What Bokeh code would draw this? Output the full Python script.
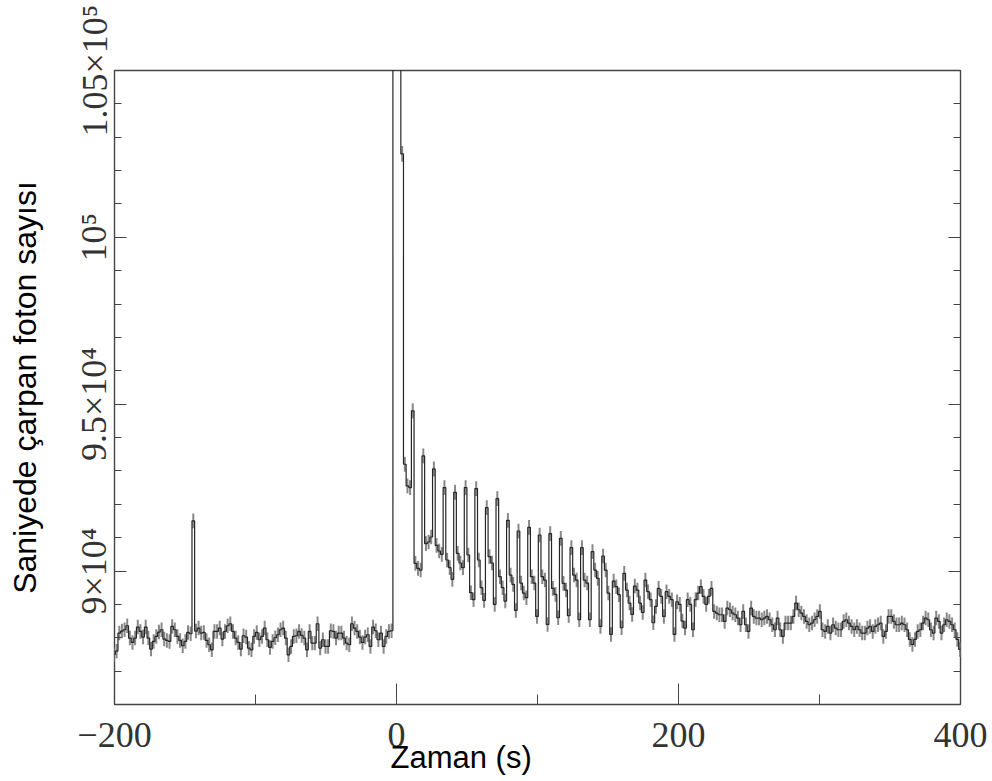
import numpy as np
from bokeh.plotting import figure
from bokeh.models import FixedTicker, LinearAxis, Range1d, ColumnDataSource, Title
from bokeh.embed import file_html
from bokeh.resources import INLINE

# ---- binning of the light curve (seconds) ----
T_START = -201.3
BIN_WIDTH = 1.875

# ---- count rate per bin, in units of 1000 counts/s ----
pre_burst_k = [
    87.5, 87.6, 88.14, 88.2, 88.24, 88.36, 87.99, 87.86, 87.99, 88.32,
    88.19, 88.02, 88.32, 87.99, 87.66, 87.89, 88.04, 88.17, 88.24, 87.96,
    87.92, 87.89, 88.34, 88.24, 88.04, 87.92, 87.76, 87.89, 88.16, 88.12,
    91.5, 88.2, 88.29, 88.14, 88.16, 87.92, 87.79, 87.64, 88.19, 88.19,
    88.29, 87.96, 88.19, 88.36, 88.42, 88.19, 87.99, 87.86, 87.66, 88.06,
    88.02, 87.69, 87.64, 88.04, 88.16, 87.94, 88.04, 88.29, 87.94, 87.71,
    87.89, 88.0, 88.09, 88.24, 88.29, 87.99, 87.49, 87.74, 88.04, 88.06,
    88.19, 88.07, 87.99, 87.64, 88.19, 87.84, 87.84, 88.42, 87.69, 87.94,
    87.74, 87.74, 88.21, 88.19, 87.99, 88.14, 88.14, 87.99, 87.84, 87.79,
    88.42, 88.29, 88.19, 88.02, 87.86, 88.02, 88.09, 87.74, 88.32, 88.21,
    87.94, 88.14, 87.74, 88.04, 88.19, 88.21,
]
burst_k = [150.0, 150.0, 150.0, 102.5, 93.2, 92.55, 92.5]
pulsed_tail_k = [
    94.8, 90.23, 90.08, 90.03,
    93.45, 90.82, 90.87, 91.02,
    93.06, 90.77, 90.6, 90.5,
    92.5, 90.33, 90.1, 89.75,
    92.36, 90.53, 90.24, 90.1,
    92.5, 90.48, 89.35, 89.14,
    92.47, 90.33, 89.5, 89.12,
    91.9, 90.43, 90.24, 89.0,
    92.17, 89.83, 89.5, 89.1,
    91.52, 89.88, 89.6, 88.82,
    91.2, 89.64, 89.34, 89.2,
    91.31, 89.83, 89.64, 88.64,
    91.08, 89.83, 89.73, 88.4,
    91.12, 89.48, 89.3, 88.6,
    90.98, 89.63, 89.43, 88.66,
    90.7, 89.88, 89.73, 88.54,
    90.7, 89.73, 89.64, 88.54,
    90.58, 90.03, 89.78, 88.34,
    90.45, 90.03, 89.34, 88.1,
    89.7, 89.53, 89.29, 88.3,
    89.93, 89.43, 89.04, 88.7,
    89.55, 89.43, 89.04, 88.76,
    89.73, 89.38, 89.14, 88.45,
    88.94, 89.48, 89.24, 88.64,
    89.38, 89.24, 89.14, 88.1,
    89.08,
]
late_tail_k = [
    89.0, 88.5, 88.29, 89.14, 89.0, 88.24, 89.14, 89.34, 89.53, 89.24,
    89.0, 89.24, 89.48, 88.79, 88.74, 88.69, 88.69, 88.49, 88.89, 88.84,
    88.74, 88.69, 88.59, 88.39, 88.79, 88.39, 88.19, 88.89, 88.64, 88.59,
    88.59, 88.54, 88.59, 88.64, 88.54, 88.39, 88.24, 88.59, 88.24, 88.04,
    88.44, 88.44, 88.44, 88.64, 89.04, 88.84, 88.74, 88.64, 88.49, 88.39,
    88.44, 88.54, 88.64, 88.79, 88.24, 88.19, 88.34, 88.14, 88.39, 88.29,
    88.24, 88.24, 88.49, 88.54, 88.44, 88.34, 88.24, 88.34, 88.24, 88.14,
    88.14, 88.29, 88.34, 88.19, 88.34, 88.39, 88.44, 88.04, 88.19, 88.64,
    88.64, 88.49, 88.39, 88.39, 88.44, 88.39, 88.24, 87.95, 87.8, 87.95,
    88.19, 88.24, 88.44, 88.59, 88.54, 88.24, 88.14, 88.59, 88.49, 88.14,
    88.39, 88.54, 88.49, 88.39, 88.24, 87.95, 87.65,
]

# ---- axes ----
x_ticks = [-200, 0, 200, 400]
x_tick_labels = ["\u2212200", "0", "200", "400"]
x_minor_ticks = [-100, 100, 300]
y_ticks = [90000, 95000, 100000, 105000]
y_tick_labels = ["9\u00d710\u2074", "9.5\u00d710\u2074", "10\u2075", "1.05\u00d710\u2075"]
y_minor_ticks = [v for v in range(86000, 105001, 1000) if v not in y_ticks]

x_title = "Zaman (s)"
y_title = "Saniyede \u00e7arpan foton say\u0131s\u0131"

# ---- build histogram ----
rate = np.array(pre_burst_k + burst_k + pulsed_tail_k + late_tail_k) * 1000.0
n = len(rate)
edges = T_START + BIN_WIDTH * np.arange(n + 1)
centers = 0.5 * (edges[:-1] + edges[1:])
err = np.sqrt(rate / BIN_WIDTH)

step_src = ColumnDataSource(dict(x=edges, y=np.append(rate, rate[-1])))
err_src = ColumnDataSource(dict(x=centers, lo=rate - err, hi=rate + err))

p = figure(width=990, height=780,
           x_range=Range1d(-200, 400), y_range=Range1d(86000, 105000),
           output_backend="svg", toolbar_location=None,
           min_border_left=114, min_border_right=30,
           min_border_top=70, min_border_bottom=76)
p.background_fill_color = "white"
p.border_fill_color = "white"
p.xgrid.visible = False
p.ygrid.visible = False
p.outline_line_color = "#444444"
p.outline_line_width = 1.4

p.segment(x0="x", y0="lo", x1="x", y1="hi", source=err_src,
          line_color="#888888", line_width=2)
p.step(x="x", y="y", source=step_src, mode="after",
       line_color="#262626", line_width=1.2)

xa = p.xaxis[0]
xa.ticker = FixedTicker(ticks=x_ticks, minor_ticks=x_minor_ticks)
xa.major_label_overrides = dict(zip(x_ticks, x_tick_labels))
xa.major_tick_in = 21
xa.major_tick_out = 0
xa.minor_tick_in = 10
xa.minor_tick_out = 0
xa.major_tick_line_color = "#444444"
xa.minor_tick_line_color = "#444444"
xa.axis_line_color = None
xa.major_label_text_font = "Liberation Serif"
xa.major_label_text_font_size = "36px"
xa.major_label_text_color = "#333333"
xa.major_label_standoff = 18

ya = p.yaxis[0]
ya.ticker = FixedTicker(ticks=y_ticks, minor_ticks=y_minor_ticks)
ya.major_label_overrides = dict(zip(y_ticks, y_tick_labels))
ya.major_label_orientation = "vertical"
ya.major_tick_in = 12
ya.major_tick_out = 0
ya.minor_tick_in = 7
ya.minor_tick_out = 0
ya.major_tick_line_color = "#444444"
ya.minor_tick_line_color = "#444444"
ya.axis_line_color = None
ya.major_label_text_font = "Liberation Serif"
ya.major_label_text_font_size = "36px"
ya.major_label_text_color = "#333333"
ya.major_label_standoff = 0
ya.axis_label = y_title
ya.axis_label_text_font = "Liberation Sans"
ya.axis_label_text_font_size = "32px"
ya.axis_label_text_font_style = "normal"
ya.axis_label_text_color = "black"
ya.axis_label_standoff = 29

ra = LinearAxis(ticker=FixedTicker(ticks=y_ticks, minor_ticks=y_minor_ticks))
ra.major_tick_in = 12
ra.major_tick_out = 0
ra.minor_tick_in = 7
ra.minor_tick_out = 0
ra.major_tick_line_color = "#444444"
ra.minor_tick_line_color = "#444444"
ra.axis_line_color = None
ra.major_label_text_color = None
ra.major_label_text_font_size = "2px"
ra.major_label_standoff = 0
p.add_layout(ra, "right")

x_title_box = Title(text=x_title, align="left", offset=276,
                    vertical_align="top", standoff=-20,
                    text_font="Liberation Sans", text_font_size="31px",
                    text_font_style="normal", text_color="black")
p.add_layout(x_title_box, "below")

open("out.html", "w").write(file_html(p, INLINE))
